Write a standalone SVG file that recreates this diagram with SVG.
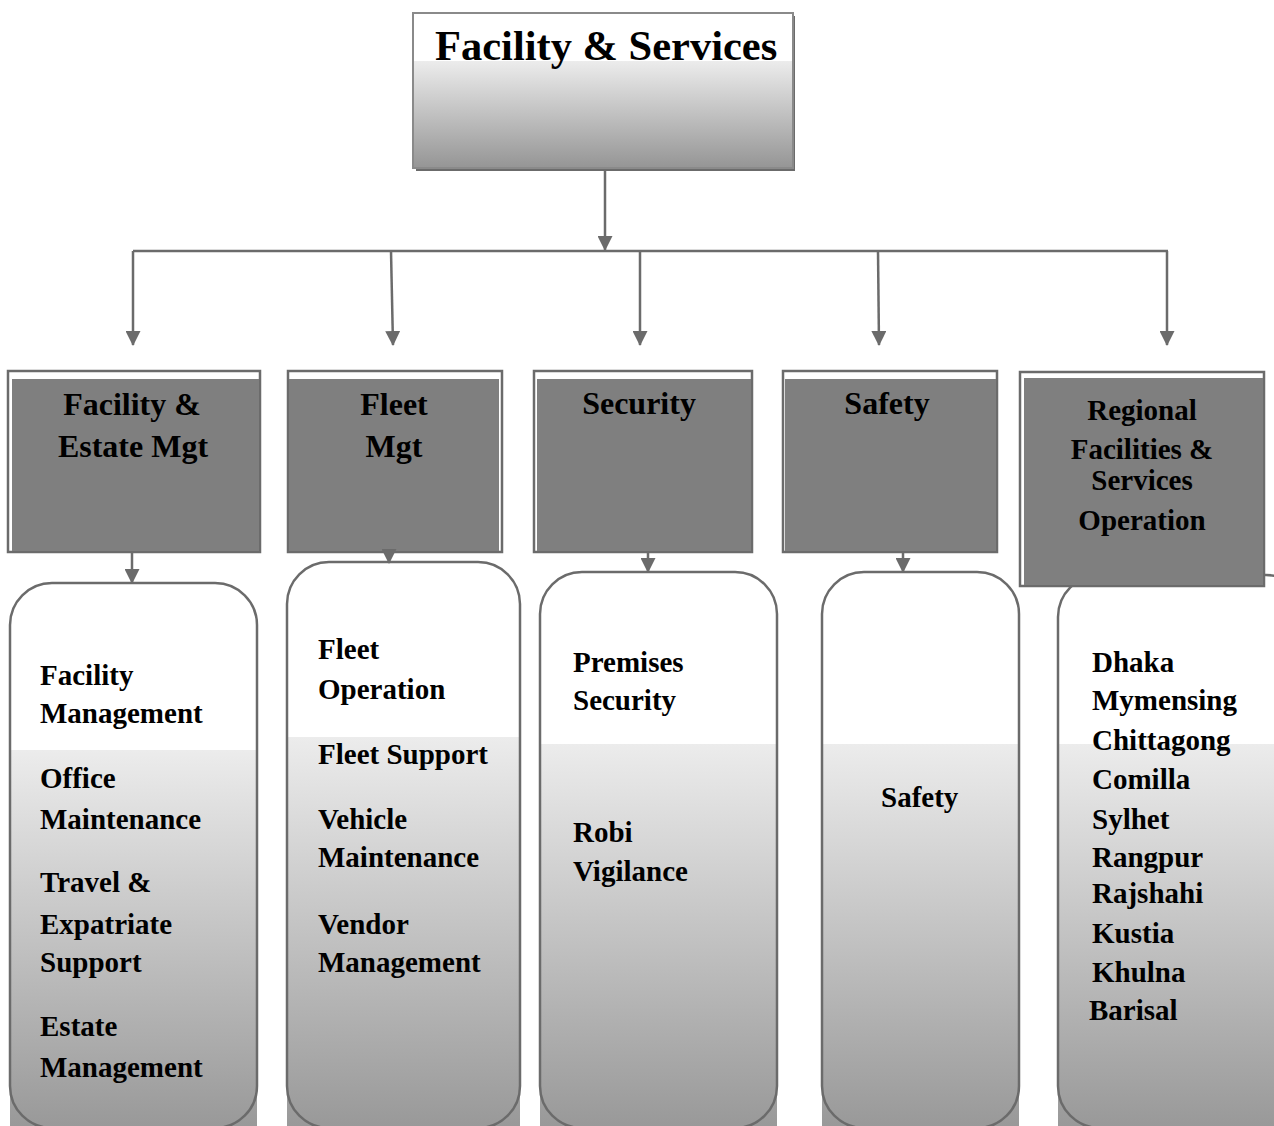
<svg xmlns="http://www.w3.org/2000/svg" width="1274" height="1126" viewBox="0 0 1274 1126">
<style>
text{font-family:"Liberation Serif","Times New Roman",serif;font-weight:bold;fill:#000}
.t1{font-size:42.5px}
.h{font-size:32px;text-anchor:middle}
.hr{font-size:29px;text-anchor:middle}
.b{font-size:29px}
.frame{fill:#fff;stroke:#6b6b6b;stroke-width:2.5}
.hfill{fill:#7f7f7f}
.rbox{fill:none;stroke:#6b6b6b;stroke-width:2.5}
.conn{stroke:#6b6b6b;stroke-width:2.5;fill:none}
</style>
<defs>
<linearGradient id="gTop" x1="0" y1="0" x2="0" y2="1">
<stop offset="0" stop-color="#ececec"/>
<stop offset="1" stop-color="#969696"/>
</linearGradient>
<linearGradient id="gBox" x1="0" y1="0" x2="0" y2="1">
<stop offset="0" stop-color="#ececec"/>
<stop offset="1" stop-color="#999999"/>
</linearGradient>
<marker id="arr" markerUnits="userSpaceOnUse" markerWidth="15" markerHeight="15" refX="14" refY="7.5" orient="auto" viewBox="0 0 15 15">
<path d="M0,0 L15,7.5 L0,15 z" fill="#6b6b6b"/>
</marker>
</defs>
<rect width="1274" height="1126" fill="#fff"/>

<g id="top">
<rect x="416" y="16" width="379" height="155" fill="#6b6b6b"/>
<rect x="413" y="13" width="380" height="155" fill="#fff" stroke="#8a8a8a" stroke-width="2"/>
<rect x="414" y="61" width="378" height="106" fill="url(#gTop)"/>
<text class="t1" x="435" y="60">Facility &amp; Services</text>
</g>

<g id="box-facility">
<rect x="10" y="750" width="247" height="376" fill="url(#gBox)"/>
<rect class="rbox" x="10" y="583" width="247" height="545" rx="42"/>
<text class="b" x="40" y="685">Facility</text>
<text class="b" x="40" y="723">Management</text>
<text class="b" x="40" y="788">Office</text>
<text class="b" x="40" y="829">Maintenance</text>
<text class="b" x="40" y="892">Travel &amp;</text>
<text class="b" x="40" y="934">Expatriate</text>
<text class="b" x="40" y="972">Support</text>
<text class="b" x="40" y="1036">Estate</text>
<text class="b" x="40" y="1077">Management</text>
</g>

<g id="box-fleet">
<rect x="287" y="737" width="233" height="389" fill="url(#gBox)"/>
<rect class="rbox" x="287" y="562" width="233" height="566" rx="42"/>
<text class="b" x="318" y="659">Fleet</text>
<text class="b" x="318" y="699">Operation</text>
<text class="b" x="318" y="764">Fleet Support</text>
<text class="b" x="318" y="829">Vehicle</text>
<text class="b" x="318" y="867">Maintenance</text>
<text class="b" x="318" y="934">Vendor</text>
<text class="b" x="318" y="972">Management</text>
</g>

<g id="box-security">
<rect x="540" y="744" width="237" height="382" fill="url(#gBox)"/>
<rect class="rbox" x="540" y="572" width="237" height="556" rx="42"/>
<text class="b" x="573" y="672">Premises</text>
<text class="b" x="573" y="710">Security</text>
<text class="b" x="573" y="842">Robi</text>
<text class="b" x="573" y="881">Vigilance</text>
</g>

<g id="box-safety">
<rect x="822" y="744" width="197" height="382" fill="url(#gBox)"/>
<rect class="rbox" x="822" y="572" width="197" height="556" rx="42"/>
<text class="b" x="881" y="807">Safety</text>
</g>

<g id="box-regional">
<rect x="1058" y="744" width="216" height="382" fill="url(#gBox)"/>
<rect class="rbox" x="1058" y="575" width="250" height="553" rx="42"/>
<text class="b" x="1092" y="672">Dhaka</text>
<text class="b" x="1092" y="710">Mymensing</text>
<text class="b" x="1092" y="750">Chittagong</text>
<text class="b" x="1092" y="789">Comilla</text>
<text class="b" x="1092" y="829">Sylhet</text>
<text class="b" x="1092" y="867">Rangpur</text>
<text class="b" x="1092" y="903">Rajshahi</text>
<text class="b" x="1092" y="943">Kustia</text>
<text class="b" x="1092" y="982">Khulna</text>
<text class="b" x="1089" y="1020">Barisal</text>
</g>

<g id="hdr-facility">
<rect class="frame" x="8" y="371" width="252" height="181"/>
<rect class="hfill" x="12" y="379" width="247" height="172"/>
<text class="h" x="132" y="415">Facility &amp;</text>
<text class="h" x="133" y="457">Estate Mgt</text>
</g>

<g id="hdr-fleet">
<rect class="frame" x="288" y="371" width="214" height="181"/>
<rect class="hfill" x="289" y="379" width="210" height="172"/>
<text class="h" x="394" y="415">Fleet</text>
<text class="h" x="394" y="457">Mgt</text>
</g>

<g id="hdr-security">
<rect class="frame" x="534" y="371" width="218" height="181"/>
<rect class="hfill" x="537" y="379" width="214" height="172"/>
<text class="h" x="639" y="414">Security</text>
</g>

<g id="hdr-safety">
<rect class="frame" x="783" y="371" width="214" height="181"/>
<rect class="hfill" x="785" y="379" width="211" height="172"/>
<text class="h" x="887" y="414">Safety</text>
</g>

<g id="hdr-regional">
<rect class="frame" x="1020" y="372" width="244" height="214"/>
<rect class="hfill" x="1024" y="378" width="239" height="207"/>
<text class="hr" x="1142" y="420">Regional</text>
<text class="hr" x="1142" y="459">Facilities &amp;</text>
<text class="hr" x="1142" y="490">Services</text>
<text class="hr" x="1142" y="530">Operation</text>
</g>

<g id="connectors">
<line class="conn" x1="605" y1="171" x2="605" y2="250" marker-end="url(#arr)"/>
<line class="conn" x1="133" y1="251" x2="1168" y2="251"/>
<line class="conn" x1="133" y1="251" x2="133" y2="345" marker-end="url(#arr)"/>
<line class="conn" x1="391" y1="251" x2="393" y2="345" marker-end="url(#arr)"/>
<line class="conn" x1="640" y1="251" x2="640" y2="345" marker-end="url(#arr)"/>
<line class="conn" x1="878" y1="251" x2="879" y2="345" marker-end="url(#arr)"/>
<line class="conn" x1="1167" y1="251" x2="1167" y2="345" marker-end="url(#arr)"/>
<line class="conn" x1="132" y1="553" x2="132" y2="583" marker-end="url(#arr)"/>
<line class="conn" x1="389" y1="549" x2="389" y2="563" marker-end="url(#arr)"/>
<line class="conn" x1="648" y1="553" x2="648" y2="572" marker-end="url(#arr)"/>
<line class="conn" x1="903" y1="553" x2="903" y2="572" marker-end="url(#arr)"/>
</g>
</svg>
